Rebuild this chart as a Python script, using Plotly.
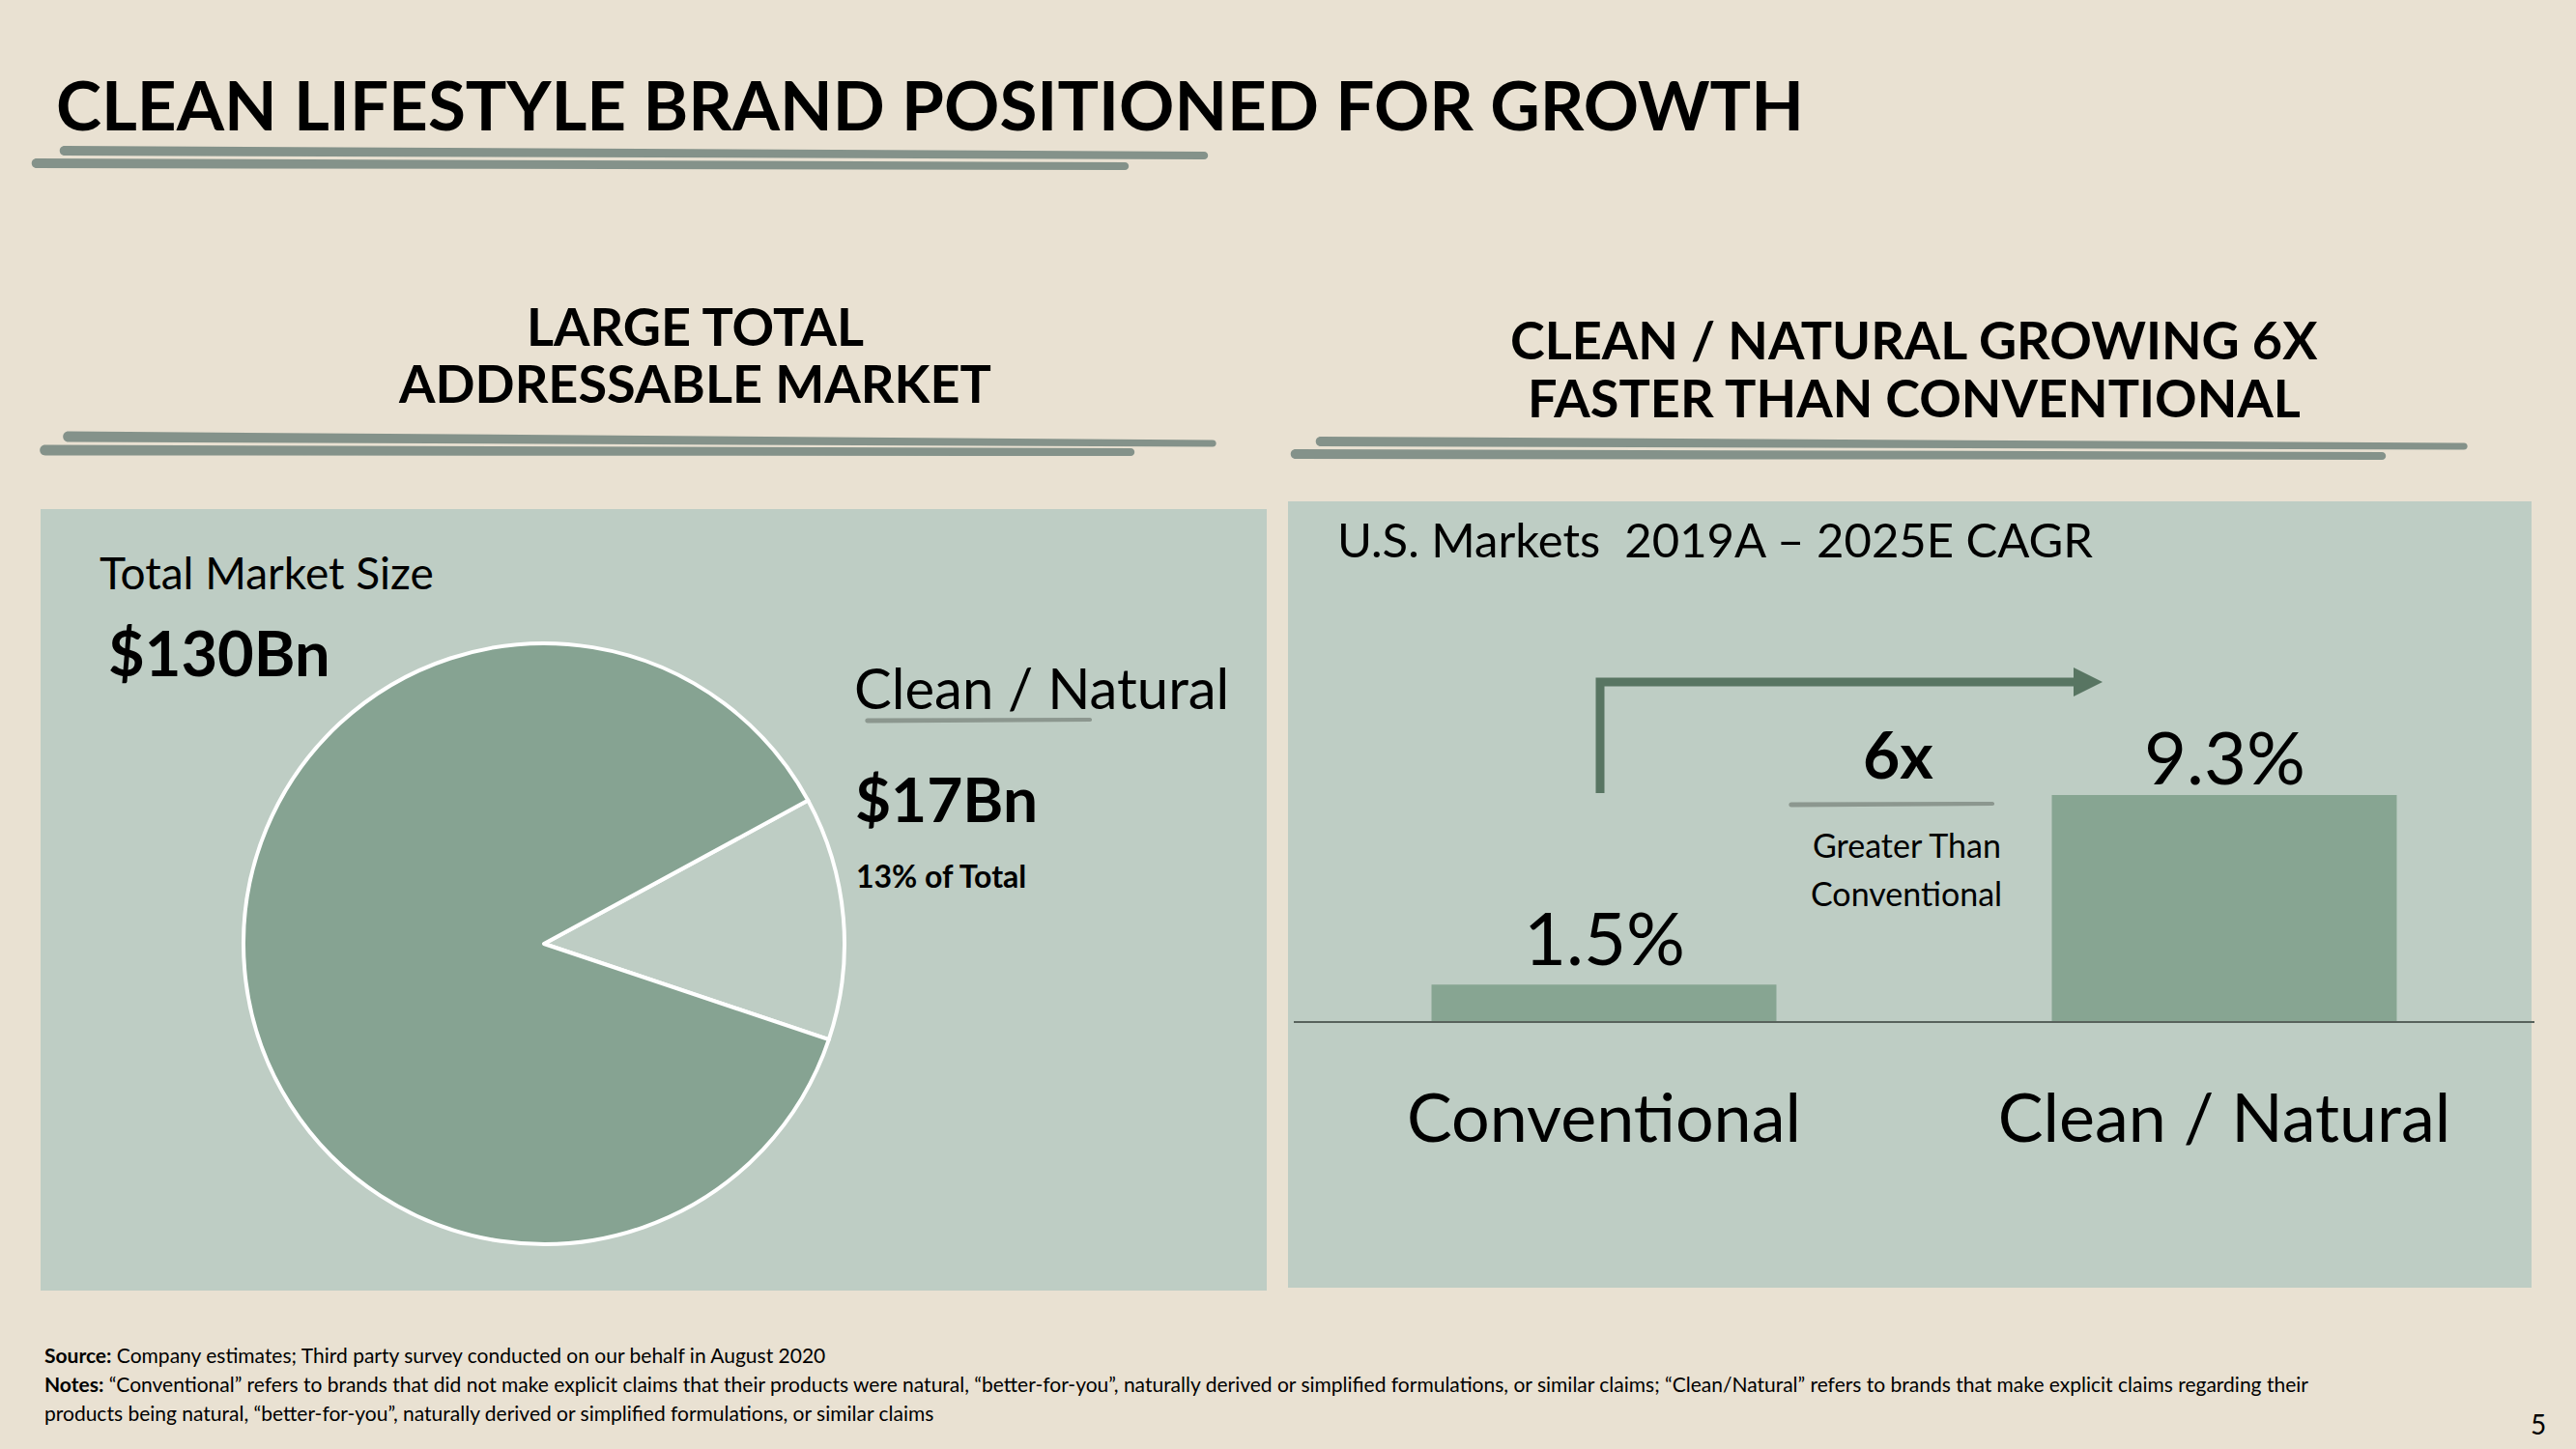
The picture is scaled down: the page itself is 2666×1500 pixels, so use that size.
import plotly.graph_objects as go

# ---------------- data ----------------
pie_labels = ["Clean / Natural", "Other"]
pie_values = [17, 113]          # $Bn, total $130Bn

bar_categories = ["Conventional", "Clean / Natural"]
bar_values = [1.5, 9.3]         # CAGR %
bar_labels = ["1.5%", "9.3%"]

title_text = "CLEAN LIFESTYLE BRAND POSITIONED FOR GROWTH"
left_header = ["LARGE TOTAL", "ADDRESSABLE MARKET"]
right_header = ["CLEAN / NATURAL GROWING 6X", "FASTER THAN CONVENTIONAL"]
source_line = "<b>Source:</b> Company estimates; Third party survey conducted on our behalf in August 2020"
notes_line1 = ("<b>Notes:</b> \u201cConventional\u201d refers to brands that did not make explicit claims that their products were natural, "
               "\u201cbetter-for-you\u201d, naturally derived or simplified formulations, or similar claims; \u201cClean/Natural\u201d refers to brands "
               "that make explicit claims regarding their")
notes_line2 = "products being natural, \u201cbetter-for-you\u201d, naturally derived or simplified formulations, or similar claims"

# ---------------- style ----------------
W, H = 2666, 1500
BG = "#E9E1D2"
PANEL = "#BECDC4"
DARK = "#86A392"
BRUSH = "#84928A"
ARROW = "#587562"
FONT = "Lato"


def px(x):
    return x / W


def py(y):
    return 1 - y / H


def stroke_path(x0, y0, x1, y1, t0, t1):
    r0, r1 = t0 * 0.7, t1 * 0.7
    pts = [
        f"M {px(x0):.5f},{py(y0 - t0/2):.5f}",
        f"L {px(x1):.5f},{py(y1 - t1/2):.5f}",
        f"C {px(x1 + r1):.5f},{py(y1 - t1/2):.5f} {px(x1 + r1):.5f},{py(y1 + t1/2):.5f} {px(x1):.5f},{py(y1 + t1/2):.5f}",
        f"L {px(x0):.5f},{py(y0 + t0/2):.5f}",
        f"C {px(x0 - r0):.5f},{py(y0 + t0/2):.5f} {px(x0 - r0):.5f},{py(y0 - t0/2):.5f} {px(x0):.5f},{py(y0 - t0/2):.5f}",
        "Z",
    ]
    return " ".join(pts)


fig = go.Figure()

# Pie
cx, cy, r = 563, 977, 311
fig.add_trace(go.Pie(
    labels=pie_labels, values=pie_values, sort=False,
    direction="clockwise", rotation=61.5,
    marker=dict(colors=[PANEL, DARK], line=dict(color="white", width=4)),
    textinfo="none", hoverinfo="label+value", showlegend=False,
    domain=dict(x=[px(cx - r), px(cx + r)], y=[py(cy + r), py(cy - r)]),
))

# Bars
fig.add_trace(go.Bar(
    x=bar_categories, y=bar_values, marker=dict(color="#87A592", line=dict(width=0)),
    showlegend=False, hoverinfo="x+y",
))

shapes = []
# panels
shapes.append(dict(type="rect", xref="paper", yref="paper", x0=px(42), x1=px(1311), y0=py(1336), y1=py(527),
                   fillcolor=PANEL, line=dict(width=0), layer="below"))
shapes.append(dict(type="rect", xref="paper", yref="paper", x0=px(1333), x1=px(2620), y0=py(1333), y1=py(519),
                   fillcolor=PANEL, line=dict(width=0), layer="below"))

# brush strokes
brushes = [
    (67, 156, 1246, 161, 10, 8), (38, 169, 1164, 172, 10, 8),
    (71, 452, 1255, 459, 11, 7), (47, 466, 1170, 468, 11, 8),
    (1367, 457, 2550, 462, 10, 7), (1341, 470, 2465, 472, 10, 8),
]
for b in brushes:
    shapes.append(dict(type="path", xref="paper", yref="paper", path=stroke_path(*b),
                       fillcolor=BRUSH, line=dict(width=0), layer="below"))
# thin squiggles
for b in [(898, 746, 1128, 745, 5, 4), (1854, 833, 2062, 832, 5, 4)]:
    shapes.append(dict(type="path", xref="paper", yref="paper", path=stroke_path(*b),
                       fillcolor="#8C978F", line=dict(width=0), layer="above"))

# elbow arrow
shapes.append(dict(type="path", xref="paper", yref="paper",
                   path=f"M {px(1656)},{py(821)} L {px(1656)},{py(706)} L {px(2152)},{py(706)}",
                   line=dict(color=ARROW, width=9), layer="above"))
shapes.append(dict(type="path", xref="paper", yref="paper",
                   path=f"M {px(2146)},{py(691)} L {px(2176)},{py(706)} L {px(2146)},{py(721)} Z",
                   fillcolor=ARROW, line=dict(width=0), layer="above"))

ann = []


def text(t, x, y, size, anchor="left", bold=False, color="black"):
    ann.append(dict(text=t, xref="paper", yref="paper", x=px(x), y=py(y), xanchor=anchor, yanchor="middle",
                    showarrow=False, font=dict(family=FONT, size=size, color=color, weight=700 if bold else 400)))


text(title_text, 56, 108, 71, bold=True)
text(left_header[0], 719, 337, 54, anchor="center", bold=True)
text(left_header[1], 719, 397, 54, anchor="center", bold=True)
text(right_header[0], 1981, 351, 54, anchor="center", bold=True)
text(right_header[1], 1981, 412, 54, anchor="center", bold=True)

text("Total Market Size", 101, 592, 46)
text("$130Bn", 110, 675, 65, bold=True)
text("Clean / Natural", 882, 711, 58)
text("$17Bn", 883, 826, 64, bold=True)
text("13% of Total", 884, 906, 32, bold=True)

text("U.S. Markets&nbsp;&nbsp;2019A \u2013 2025E CAGR", 1382, 558, 49)
text("6x", 1964, 780, 66, anchor="center", bold=True)
text("Greater Than", 1973, 874, 34, anchor="center")
text("Conventional", 1973, 924, 34, anchor="center")

text(source_line, 44, 1402, 21)
text(notes_line1, 44, 1432, 21)
text(notes_line2, 44, 1462, 21)
text("5", 2627, 1474, 28, anchor="center")

# bar value labels (data coordinates)
label_shift = [50, 40]
for cat, v, lab, s in zip(bar_categories, bar_values, bar_labels, label_shift):
    ann.append(dict(text=lab, xref="x", yref="y", x=cat, y=v, yshift=s, xanchor="center", yanchor="middle",
                    showarrow=False, font=dict(family=FONT, size=76, color="black")))

fig.update_layout(
    width=W, height=H, autosize=False,
    margin=dict(l=0, r=0, t=0, b=0, pad=0),
    paper_bgcolor=BG, plot_bgcolor="rgba(0,0,0,0)",
    shapes=shapes, annotations=ann,
    bargap=0.444,
    xaxis=dict(domain=[px(1339), px(2623)], showgrid=False, zeroline=False,
               showline=True, linecolor="#58625C", linewidth=2,
               ticks="outside", ticklen=39, tickcolor="rgba(0,0,0,0)",
               tickfont=dict(family=FONT, size=70, color="black"), fixedrange=True),
    yaxis=dict(domain=[py(1057), py(755)], range=[0, 12], visible=False, fixedrange=True),
    font=dict(family=FONT),
)

fig.write_html("out.html", config={"displayModeBar": False},
               post_script="document.body.style.margin='0';document.body.style.background='%s';" % BG)
